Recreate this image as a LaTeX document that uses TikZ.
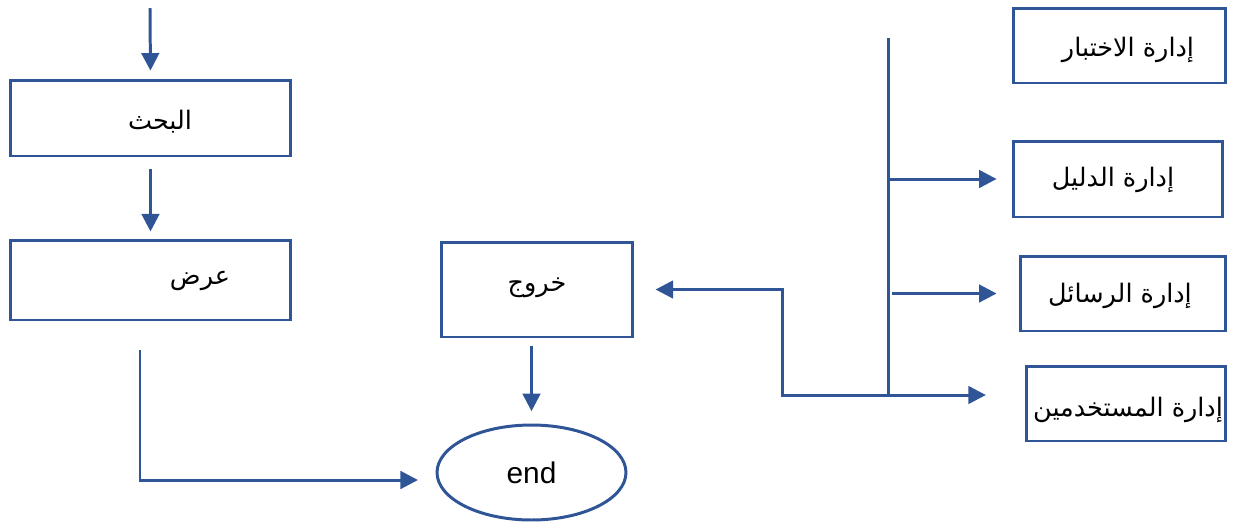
\documentclass[tikz,border=0pt]{standalone}
\usepackage{fontspec}
\setmainfont{Liberation Sans}
\newfontfamily\arabicfont[Script=Arabic]{DejaVu Sans}
\TeXXeTstate=1
\usetikzlibrary{arrows.meta,shapes.geometric}
\definecolor{flowblue}{RGB}{47,85,151}

\begin{document}
\begin{tikzpicture}[x=0.02cm,y=-0.02cm,
    box/.style={draw=flowblue, line width=1.7pt, rectangle, inner sep=0pt},
    lbl/.style={font=\arabicfont\fontsize{14.5}{18}\selectfont, inner sep=0pt},
    arr/.style={draw=flowblue, line width=1.7pt, -{Triangle[length=10pt,width=10pt]}},
    wire/.style={draw=flowblue, line width=1.7pt}]
    \useasboundingbox (0,0) rectangle (1238,525);

    % Left: search and show
    \node [box, minimum width=5.62cm, minimum height=1.52cm] (search) at (150.5,118) {};
    \node [lbl] (searchtxt) at (160,122) {\beginR البحث\endR};
    \node [box, minimum width=5.62cm, minimum height=1.6cm] (show) at (150.5,280) {};
    \node [lbl] (showtxt) at (200,281) {\beginR عرض\endR};
    \coordinate (top) at (150,8);
    \draw [arr, shorten >=4.5pt] (top) -- (search.north);
    \draw [arr, shorten <=6.8pt, shorten >=4pt] (search.south) -- (show.north);

    % Middle: exit and end
    \node [box, minimum width=3.84cm, minimum height=1.9cm] (exit) at (537,289.5) {};
    \node [lbl] (exittxt) at (537,288) {\beginR خروج\endR};
    \node [ellipse, draw=flowblue, line width=1.7pt, minimum width=3.78cm, minimum height=1.9cm,
           font=\fontsize{17}{20}\selectfont] (finish) at (531.5,472.5) {end};
    \draw [arr, shorten <=4pt, shorten >=7pt] (finish.north |- exit.south) -- (finish.north);
    \coordinate (showout) at (140,350);
    \coordinate (endin) at (418,480);
    \draw [arr] (showout) |- (endin);

    % Right: management boxes
    \node [box, minimum width=4.26cm, minimum height=1.5cm] (test) at (1119.5,45.5) {};
    \node [lbl] (testtxt) at (1128,50) {\beginR إدارة الاختبار\endR};
    \node [box, minimum width=4.2cm, minimum height=1.52cm] (guide) at (1118,179) {};
    \node [lbl] (guidetxt) at (1113,180) {\beginR إدارة الدليل\endR};
    \node [box, minimum width=4.12cm, minimum height=1.5cm] (msgs) at (1123,293.5) {};
    \node [lbl] (msgstxt) at (1120,296) {\beginR إدارة الرسائل\endR};
    \node [box, minimum width=4cm, minimum height=1.5cm] (users) at (1126,403.5) {};
    \node [lbl] (userstxt) at (1128,410) {\beginR إدارة المستخدمين\endR};

    % Bus line and branches
    \coordinate (bustop) at (888,38);
    \coordinate (busbot) at (888,395);
    \draw [wire] (bustop) -- (busbot);
    \draw [arr, shorten >=8.5pt] (guide.west -| bustop) -- (guide.west);
    \draw [arr, shorten <=2.3pt, shorten >=12.5pt] (msgs.west -| bustop) -- (msgs.west);
    \draw [arr, shorten >=22pt] (busbot) -- (busbot -| users.west);
    \draw [arr, shorten >=12pt] (busbot) -- (782,395) |- (exit.east);
\end{tikzpicture}
\end{document}
